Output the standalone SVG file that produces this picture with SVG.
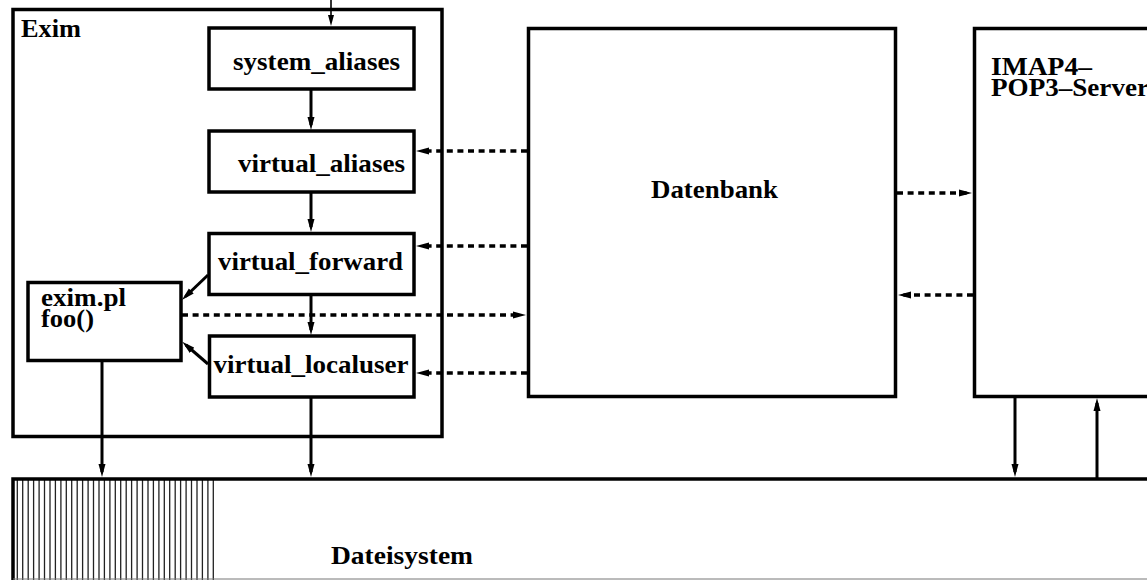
<svg xmlns="http://www.w3.org/2000/svg" width="1147" height="580" viewBox="0 0 1147 580">
<style>
.box{fill:#fff;stroke:#000;stroke-width:3.5}
.lbl{font-family:"Liberation Serif","Times New Roman",serif;font-weight:bold;font-size:25px;fill:#000}
.solid{fill:none;stroke:#000;stroke-width:3}
.thin{fill:none;stroke:#000;stroke-width:1.6}
.dash{fill:none;stroke:#000;stroke-width:3.4;stroke-dasharray:6 4.6}
.hatch{fill:none;stroke:#222;stroke-width:1.3}
</style>
<defs>
<marker id="ah" markerUnits="userSpaceOnUse" markerWidth="14" markerHeight="8" refX="8" refY="4" orient="auto">
<path d="M0,0.5 L13,4 L0,7.5 z" fill="#000"/>
</marker>
<marker id="ahs" markerUnits="userSpaceOnUse" markerWidth="12" markerHeight="8" refX="7" refY="4" orient="auto">
<path d="M0,1 L11,4 L0,7 z" fill="#000"/>
</marker>
</defs>
<rect width="1147" height="580" fill="#fff"/>

<g id="dateisystem">
<path class="hatch" d="M17.3 480V580M22.7 480V580M28.2 480V580M33.6 480V580M39.1 480V580M44.5 480V580M50 480V580M55.4 480V580M60.9 480V580M66.3 480V580M71.7 480V580M77.2 480V580M82.6 480V580M88.1 480V580M93.5 480V580M99 480V580M104.4 480V580M109.9 480V580M115.3 480V580M120.7 480V580M126.2 480V580M131.6 480V580M137.1 480V580M142.5 480V580M148 480V580M153.4 480V580M158.9 480V580M164.3 480V580M169.7 480V580M175.2 480V580M180.6 480V580M186.1 480V580M191.5 480V580M197 480V580M202.4 480V580M207.9 480V580M213.3 480V580"/>
<path d="M13 580V479H1147" fill="none" stroke="#000" stroke-width="3.5"/>
<path d="M13 579H1147" fill="none" stroke="#777" stroke-width="1"/>
<text class="lbl" x="331" y="564" textLength="142" lengthAdjust="spacingAndGlyphs">Dateisystem</text>
</g>

<g id="exim">
<rect class="box" x="13" y="9.5" width="429" height="427"/>
<text class="lbl" x="21" y="37" textLength="60" lengthAdjust="spacingAndGlyphs">Exim</text>
</g>

<g id="system_aliases">
<rect class="box" x="209" y="28" width="205" height="61"/>
<text class="lbl" x="233" y="70" textLength="167" lengthAdjust="spacingAndGlyphs">system_aliases</text>
</g>

<g id="virtual_aliases">
<rect class="box" x="209" y="131" width="205" height="61"/>
<text class="lbl" x="238" y="172" textLength="167" lengthAdjust="spacingAndGlyphs">virtual_aliases</text>
</g>

<g id="virtual_forward">
<rect class="box" x="209" y="233.5" width="205" height="61"/>
<text class="lbl" x="218" y="270" textLength="185" lengthAdjust="spacingAndGlyphs">virtual_forward</text>
</g>

<g id="virtual_localuser">
<rect class="box" x="209.5" y="336" width="204.5" height="61"/>
<text class="lbl" x="213.5" y="373" textLength="195" lengthAdjust="spacingAndGlyphs">virtual_localuser</text>
</g>

<g id="exim_pl">
<rect class="box" x="28" y="282.5" width="153" height="78"/>
<text class="lbl" x="41" y="306" textLength="85" lengthAdjust="spacingAndGlyphs">exim.pl</text>
<text class="lbl" x="41" y="327" textLength="53" lengthAdjust="spacingAndGlyphs">foo()</text>
</g>

<g id="datenbank">
<rect class="box" x="528.5" y="28.5" width="367" height="368"/>
<text class="lbl" x="651" y="198" textLength="127" lengthAdjust="spacingAndGlyphs">Datenbank</text>
</g>

<g id="imap_pop3">
<rect class="box" x="974.5" y="28.5" width="180" height="368"/>
<text class="lbl" x="991" y="75" textLength="101" lengthAdjust="spacingAndGlyphs">IMAP4–</text>
<text class="lbl" x="991" y="96" textLength="158" lengthAdjust="spacingAndGlyphs">POP3–Server</text>
</g>

<g id="connectors">
<line class="thin" x1="331" y1="0" x2="331" y2="22" marker-end="url(#ahs)"/>
<line class="solid" x1="311" y1="90" x2="311" y2="125" marker-end="url(#ah)"/>
<line class="solid" x1="311" y1="193" x2="311" y2="227" marker-end="url(#ah)"/>
<line class="solid" x1="311" y1="296" x2="311" y2="330" marker-end="url(#ah)"/>
<line class="solid" x1="208" y1="275" x2="185.5" y2="296.5" marker-end="url(#ah)"/>
<line class="solid" x1="208" y1="364" x2="186" y2="345" marker-end="url(#ah)"/>
<line class="solid" x1="102" y1="361" x2="102" y2="472" marker-end="url(#ah)"/>
<line class="solid" x1="311" y1="398" x2="311" y2="472" marker-end="url(#ah)"/>
<line class="solid" x1="1015" y1="398" x2="1015" y2="472" marker-end="url(#ah)"/>
<line class="solid" x1="1097" y1="478" x2="1097" y2="403" marker-end="url(#ah)"/>
<line class="dash" x1="527" y1="151" x2="421" y2="151" marker-end="url(#ah)"/>
<line class="dash" x1="527" y1="246" x2="421" y2="246" marker-end="url(#ah)"/>
<line class="dash" x1="527" y1="373" x2="421" y2="373" marker-end="url(#ah)"/>
<line class="dash" x1="182" y1="315" x2="521" y2="315" marker-end="url(#ah)"/>
<line class="dash" x1="897" y1="193" x2="967" y2="193" marker-end="url(#ah)"/>
<line class="dash" x1="973" y1="295" x2="903" y2="295" marker-end="url(#ah)"/>
</g>
</svg>
